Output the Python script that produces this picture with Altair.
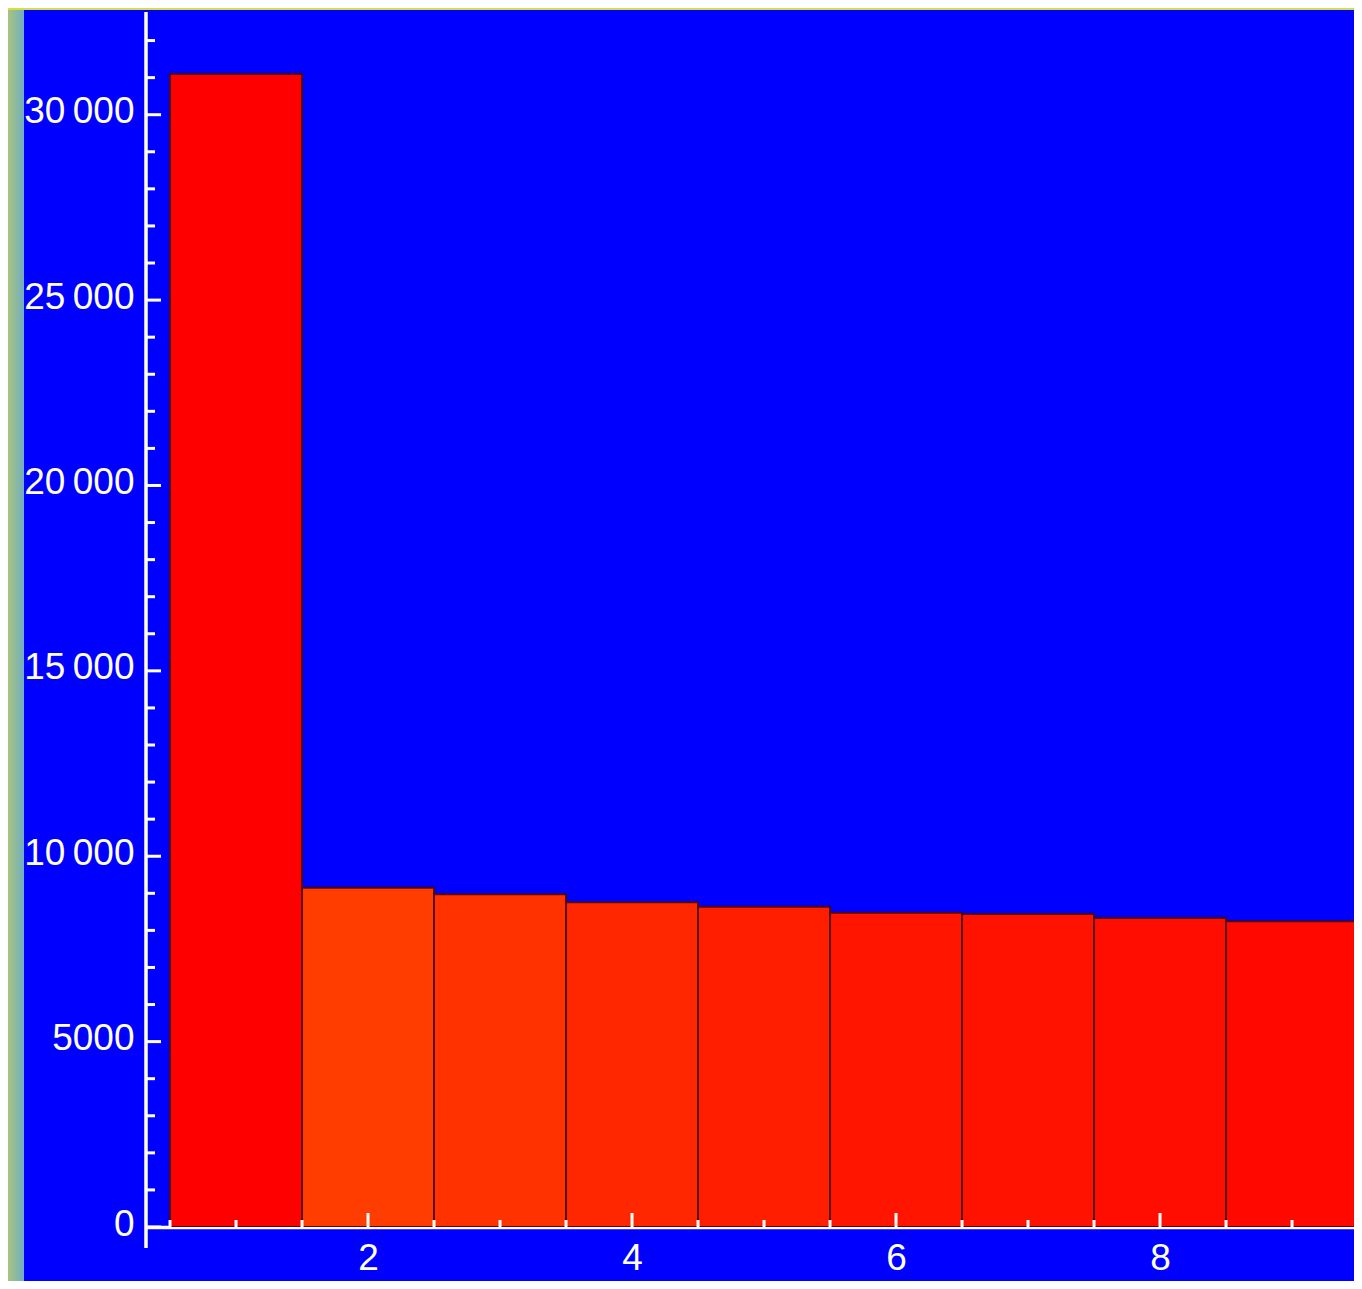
import altair as alt
import pandas as pd

# ---- data ----
bar_positions = [1, 2, 3, 4, 5, 6, 7, 8, 9]
bar_values = [31095, 9150, 8972, 8757, 8638, 8476, 8441, 8333, 8244]
bar_colors = ["#ff0000", "#ff3d00", "#ff3200", "#ff2700", "#ff1f00",
              "#ff1500", "#ff1200", "#ff0d00", "#ff0800"]

x_label_values = [2, 4, 6, 8]
x_tick_values = [0.5 + 0.5 * i for i in range(19)]
y_label_values = [0, 5000, 10000, 15000, 20000, 25000, 30000]
y_minor_values = [v for v in range(1000, 33000, 1000) if v % 5000 != 0]

# ---- layout ----
W, H = 1208, 1215
PAD_L, PAD_T, PAD_B = 138, 4, 54
X_DOMAIN = [0.318, 0.318 + W / 132.0]
Y_DOMAIN = [0, 32770]
FONT = "Liberation Sans"
WHITE = "#ffffff"

xscale = alt.Scale(domain=X_DOMAIN, nice=False, zero=False)
yscale = alt.Scale(domain=Y_DOMAIN, nice=False, zero=False)

label_expr = ("datum.value >= 10000 ? replace(format(datum.value, ','), ',', '\u2009')"
              " : format(datum.value, 'd')")

x_axis = alt.Axis(values=x_label_values, domain=True, domainColor=WHITE,
                  domainWidth=3.5, ticks=False, grid=False, title=None,
                  labelFont=FONT, labelFontSize=37, labelColor=WHITE,
                  labelPadding=13, labelFlush=False, labelOverlap=False)
y_axis = alt.Axis(values=y_label_values, domain=False, ticks=False, grid=False,
                  title=None, labelFont=FONT, labelFontSize=37, labelColor=WHITE,
                  labelPadding=12, labelFlush=False, labelOverlap=False,
                  labelBaseline="middle", labelOffset=-3, labelExpr=label_expr)

bars_df = pd.DataFrame({
    "pos": bar_positions,
    "start": [p - 0.5 for p in bar_positions],
    "end": [p + 0.5 for p in bar_positions],
    "value": bar_values,
    "color": bar_colors,
})

one = pd.DataFrame({"a": [0]})

# decorative frame around the blue panel
left_strip = alt.Chart(one).mark_rect(
    color=alt.LinearGradient(
        gradient="linear",
        stops=[alt.GradientStop(color="#a8c47c", offset=0),
               alt.GradientStop(color="#70aec4", offset=1)],
        x1=0, x2=1, y1=0, y2=0),
).encode(x=alt.value(-PAD_L), x2=alt.value(-PAD_L + 16),
         y=alt.value(-PAD_T), y2=alt.value(H + PAD_B))

top_strip = alt.Chart(one).mark_rect(color="#d6df3c").encode(
    x=alt.value(-PAD_L), x2=alt.value(W), y=alt.value(-PAD_T), y2=alt.value(-PAD_T + 2))

bars = alt.Chart(bars_df).mark_rect(
    stroke="#4a0000", strokeWidth=2, strokeOpacity=0.85, clip=True
).encode(
    x=alt.X("start:Q", scale=xscale, axis=x_axis),
    x2="end:Q",
    y=alt.Y("value:Q", scale=yscale, axis=y_axis),
    y2=alt.datum(0),
    color=alt.Color("color:N", scale=None),
)

y_major = alt.Chart(pd.DataFrame({"v": y_label_values})).mark_rule(
    color=WHITE, strokeWidth=3).encode(
    y=alt.Y("v:Q", scale=yscale, axis=y_axis), x=alt.value(0), x2=alt.value(15))

y_minor = alt.Chart(pd.DataFrame({"v": y_minor_values})).mark_rule(
    color=WHITE, strokeWidth=3).encode(
    y=alt.Y("v:Q", scale=yscale, axis=y_axis), x=alt.value(0), x2=alt.value(9))

x_minor_vals = [v for v in x_tick_values if v not in x_label_values]
x_minor = alt.Chart(pd.DataFrame({"v": x_minor_vals})).mark_rule(
    color=WHITE, strokeWidth=3).encode(
    x=alt.X("v:Q", scale=xscale, axis=x_axis), y=alt.value(H), y2=alt.value(H - 7))

x_major = alt.Chart(pd.DataFrame({"v": x_label_values})).mark_rule(
    color=WHITE, strokeWidth=3).encode(
    x=alt.X("v:Q", scale=xscale, axis=x_axis), y=alt.value(H), y2=alt.value(H - 14))

y_line = alt.Chart(one).mark_rule(color=WHITE, strokeWidth=3.5).encode(
    x=alt.value(0), y=alt.value(0), y2=alt.value(H + 21))

chart = alt.layer(
    left_strip, top_strip, bars, y_major, y_minor, x_minor, x_major, y_line
).properties(
    width=W, height=H,
    autosize=alt.AutoSizeParams(type="none"),
    padding={"left": PAD_L, "top": PAD_T, "right": 0, "bottom": PAD_B},
).configure(
    background="#0000ff",
).configure_view(stroke=None)

chart.save("out.html", embed_options={"renderer": "svg", "actions": False})
